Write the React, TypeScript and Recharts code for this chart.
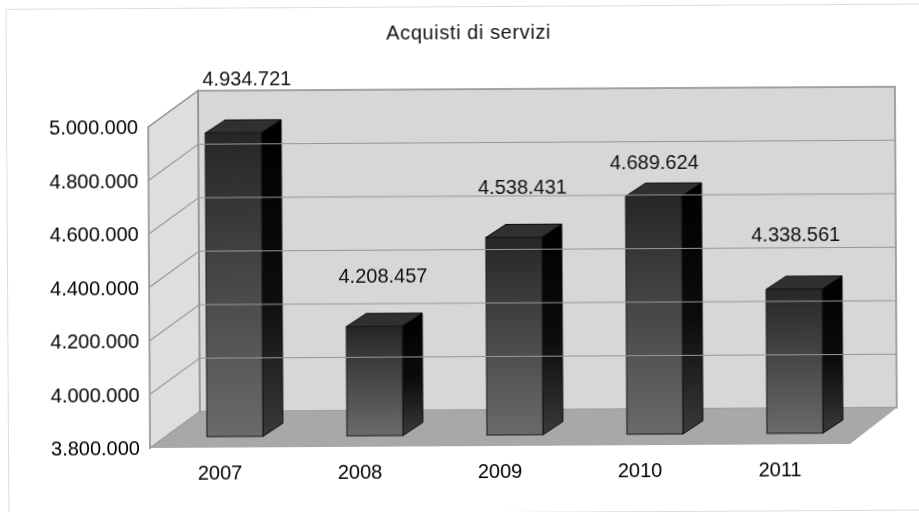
import React from 'react'
import {
  BarChart,
  XAxis,
  YAxis,
  Bar,
  LabelList,
  ReferenceArea,
  ReferenceLine,
} from 'recharts'

const years = ['2007', '2008', '2009', '2010', '2011']
const acquisti = [4934721, 4208457, 4538431, 4689624, 4338561]
const yTicks = [3800000, 4000000, 4200000, 4400000, 4600000, 4800000, 5000000]
const gridValues = [4000000, 4200000, 4400000, 4600000, 4800000]

const data = years.map((year, i) => ({ year, value: acquisti[i] }))

// label placement relative to each bar top, the original labels were moved by hand
const labelShiftX = [14, 9, 9, 1, 2]
const labelShiftY = [-54, -51, -50, -34, -55]

const BACK_LEFT = 50
const BACK_RIGHT = 47
const BACK_UP = 36
const BAR_SHIFT_X = 15
const BAR_SHIFT_Y = -11
const BAR_DX = 20
const BAR_DY = -13

const fontFamily = '"Liberation Sans", Arial, sans-serif'
const dotted = (v: number) => String(v).replace(/\B(?=(\d{3})+$)/g, '.')

function Walls({ x, y, width, height }: any) {
  const r = x + width
  const b = y + height
  return (
    <g>
      <polygon
        points={`${x + BACK_LEFT},${y - BACK_UP} ${r + BACK_RIGHT},${y - BACK_UP} ${r + BACK_RIGHT},${b - BACK_UP} ${x + BACK_LEFT},${b - BACK_UP}`}
        fill="#d7d7d7"
        stroke="#8c8c8c"
        strokeWidth={1.5}
      />
      <polygon
        points={`${x},${y} ${x + BACK_LEFT},${y - BACK_UP} ${x + BACK_LEFT},${b - BACK_UP} ${x},${b}`}
        fill="#dedede"
        stroke="#8c8c8c"
        strokeWidth={1.5}
      />
      <polygon
        points={`${x},${b} ${x + BACK_LEFT},${b - BACK_UP} ${r + BACK_RIGHT},${b - BACK_UP} ${r},${b}`}
        fill="#a8a8a8"
      />
    </g>
  )
}

function WallLine({ x1, x2, y1 }: any) {
  return (
    <polyline
      points={`${x1},${y1} ${x1 + BACK_LEFT},${y1 - BACK_UP} ${x2 + BACK_RIGHT},${y1 - BACK_UP}`}
      fill="none"
      stroke="#979797"
      strokeWidth={1.2}
    />
  )
}

function Box3D({ x, y, width, height }: any) {
  const l = x + BAR_SHIFT_X
  const r = l + width
  const t = y + BAR_SHIFT_Y
  const b = t + height
  return (
    <g>
      <polygon
        points={`${r},${t} ${r + BAR_DX},${t + BAR_DY} ${r + BAR_DX},${b + BAR_DY} ${r},${b}`}
        fill="url(#barSide)"
        stroke="#0a0a0a"
      />
      <polygon
        points={`${l},${t} ${l + BAR_DX},${t + BAR_DY} ${r + BAR_DX},${t + BAR_DY} ${r},${t}`}
        fill="#303030"
        stroke="#0a0a0a"
      />
      <rect x={l} y={t} width={width} height={height} fill="url(#barFront)" stroke="#181818" />
    </g>
  )
}

function BarLabel({ x, y, width, value, index }: any) {
  return (
    <text
      x={x + BAR_SHIFT_X + width / 2 + labelShiftX[index]}
      y={y + BAR_SHIFT_Y + labelShiftY[index]}
      textAnchor="middle"
      dominantBaseline="central"
      fontSize={20}
      fontFamily={fontFamily}
      fill="#111"
    >
      {dotted(value)}
    </text>
  )
}

export default function App() {
  return (
    <div
      style={{
        position: 'fixed',
        left: 0,
        top: 0,
        width: 919,
        height: 512,
        overflow: 'hidden',
        background: '#fff',
      }}
    >
      <div
        style={{
          position: 'absolute',
          left: 0,
          top: 0,
          width: 919,
          height: 512,
          transform: 'rotate(-0.33deg)',
          transformOrigin: '150px 448px',
          filter: 'blur(0.4px)',
        }}
      >
        <div
          style={{
            position: 'absolute',
            left: 8,
            top: 8,
            width: 1000,
            height: 505,
            border: '1px solid #dcdcdc',
          }}
        />
        <div
          style={{
            position: 'absolute',
            left: 0,
            width: 942,
            top: 23,
            textAlign: 'center',
            fontFamily,
            fontSize: 20,
            letterSpacing: 0.6,
            color: '#111',
          }}
        >
          Acquisti di servizi
        </div>
        <div style={{ position: 'absolute', left: 0, top: 0 }}>
          <BarChart
            width={919}
            height={512}
            data={data}
            barSize={56}
            margin={{ top: 127, right: 69, bottom: 24, left: 0 }}
          >
            <defs>
              <linearGradient id="barFront" x1="0" y1="0" x2="0" y2="1">
                <stop offset="0%" stopColor="#262626" />
                <stop offset="100%" stopColor="#6a6a6a" />
              </linearGradient>
              <linearGradient id="barSide" x1="0" y1="0" x2="0" y2="1">
                <stop offset="0%" stopColor="#000" />
                <stop offset="55%" stopColor="#0c0c0c" />
                <stop offset="100%" stopColor="#3a3a3a" />
              </linearGradient>
            </defs>
            <XAxis
              dataKey="year"
              height={40}
              axisLine={false}
              tickLine={false}
              tickMargin={12}
              tick={{ fontSize: 20, fontFamily, fill: '#000' }}
            />
            <YAxis
              width={150}
              domain={[3800000, 5000000]}
              ticks={yTicks}
              interval={0}
              axisLine={false}
              tickLine={false}
              tickMargin={4}
              tickFormatter={dotted}
              tick={{ fontSize: 20, fontFamily, fill: '#000' }}
            />
            <ReferenceArea y1={3800000} y2={5000000} shape={<Walls />} />
            {gridValues.map((v) => (
              <ReferenceLine key={v} y={v} shape={<WallLine />} />
            ))}
            <Bar dataKey="value" shape={<Box3D />} isAnimationActive={false}>
              <LabelList dataKey="value" content={<BarLabel />} />
            </Bar>
          </BarChart>
        </div>
      </div>
    </div>
  )
}
